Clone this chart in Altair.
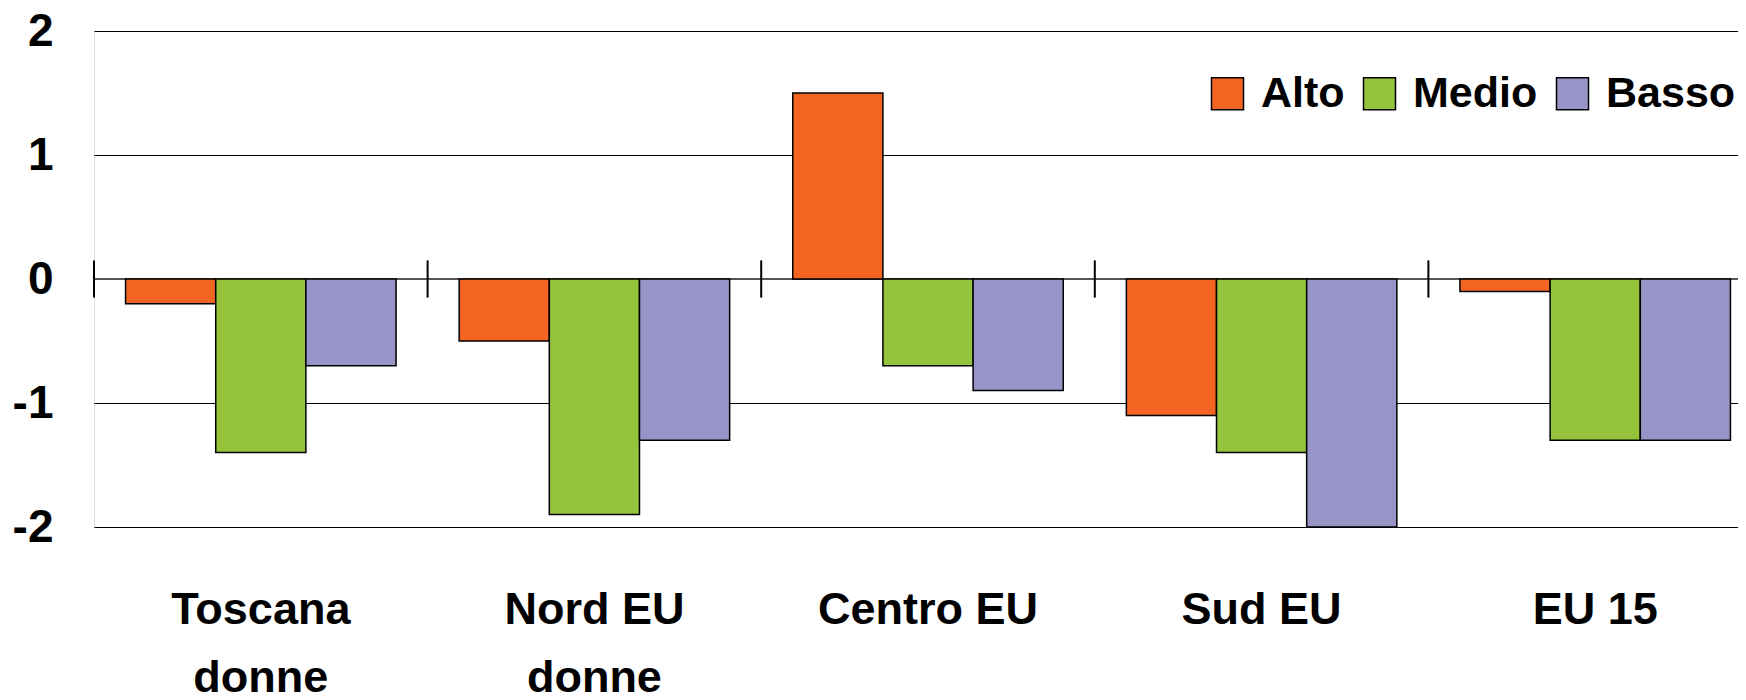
import altair as alt
import pandas as pd

categories = ["Toscana\ndonne", "Nord EU\ndonne", "Centro EU", "Sud EU", "EU 15"]
levels = ["Alto", "Medio", "Basso"]
alto = [-0.2, -0.5, 1.5, -1.1, -0.1]
medio = [-1.4, -1.9, -0.7, -1.4, -1.3]
basso = [-0.7, -1.3, -0.9, -2.0, -1.3]
colors = ["#F46523", "#95C43C", "#9794C8"]
y_ticks = [-2, -1, 0, 1, 2]

FONT = "Liberation Sans Narrow, Arial Narrow, Liberation Sans, Arial, sans-serif"

rows = []
for i, c in enumerate(categories):
    for lvl, vals in zip(levels, [alto, medio, basso]):
        rows.append({"cat": c, "level": lvl, "value": vals[i]})
df = pd.DataFrame(rows)
cat_df = pd.DataFrame({"cat": categories})

x_scale = alt.Scale(domain=categories, range=[0, 1668], paddingInner=0, paddingOuter=0)
y_scale = alt.Scale(domain=[-2, 2], nice=False, zero=False)

x_enc = alt.X(
    "cat:N", sort=categories, scale=x_scale,
    axis=alt.Axis(
        title=None, ticks=False, domain=False, labelAngle=0, labelAlign="center",
        labelFont=FONT, labelFontSize=45, labelFontWeight="bold", labelColor="black",
        labelExpr="split(datum.label, '\\n')", labelLineHeight=68,
        labelPadding=60, labelLimit=0, labelOverlap=False, labelBaseline="top",
        labelFlush=False,
    ),
)

bars = alt.Chart(df).mark_bar(stroke="black", strokeWidth=1.5, opacity=1).encode(
    x=x_enc,
    xOffset=alt.XOffset("level:N", sort=levels,
                        scale=alt.Scale(domain=levels, paddingInner=0, paddingOuter=0.35)),
    y=alt.Y("value:Q", scale=y_scale,
            axis=alt.Axis(
                title=None, values=y_ticks, ticks=False, domain=False,
                grid=True, gridColor="black", gridWidth=1.2,
                labelFont=FONT, labelFontSize=46, labelFontWeight="bold", labelColor="black",
                labelPadding=41,
                labelExpr="datum.value < 0 ? '-' + abs(datum.value) : '' + datum.value",
            )),
    y2=alt.datum(0),
    color=alt.Color("level:N", sort=levels,
                    scale=alt.Scale(domain=levels, range=colors),
                    legend=alt.Legend(
                        title=None, orient="none", direction="horizontal",
                        legendX=1112, legendY=41,
                        symbolType="square", symbolSize=1024,
                        symbolStrokeColor="black", symbolStrokeWidth=1.5, symbolOpacity=1,
                        labelFont=FONT, labelFontSize=43, labelFontWeight="bold",
                        labelColor="black", labelOffset=12, columnPadding=13,
                        padding=0, labelLimit=0,
                    )),
)

zero_line = alt.Chart(cat_df).mark_rule(color="#555555", strokeWidth=2).encode(
    y=alt.Y(datum=0),
    x=alt.value(0), x2=alt.value(1700),
)

ticks = alt.Chart(cat_df).mark_rule(color="black", strokeWidth=2).encode(
    x=alt.X("cat:N", sort=categories, bandPosition=0),
    y=alt.Y(datum=0.15),
    y2=alt.Y2(datum=-0.15),
)

chart = alt.layer(zero_line, ticks, bars).properties(
    width=1644, height=496,
    autosize=alt.AutoSizeParams(type="none"),
    padding={"left": 86, "top": 23, "right": 0, "bottom": 173},
).configure_view(stroke=None).configure(background="white")

chart.save("out.html", embed_options={"renderer": "svg", "actions": False})
